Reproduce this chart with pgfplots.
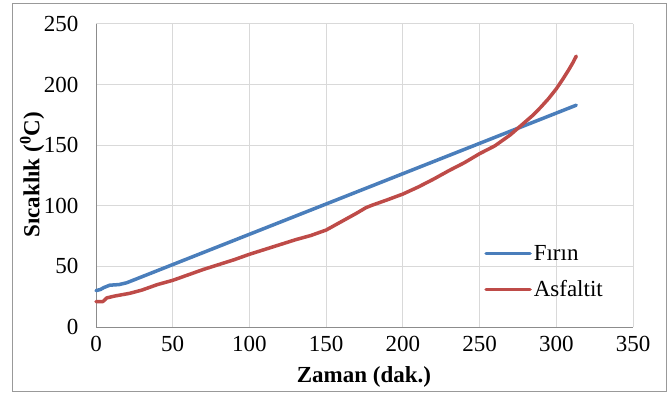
\documentclass[border=0pt]{standalone}
\usepackage{fontspec}
\setmainfont{Liberation Serif}
\usepackage{pgfplots}
\pgfplotsset{compat=1.18}
\definecolor{firin}{HTML}{4A7EBB}
\definecolor{asf}{HTML}{BE4B48}
\begin{document}
\begin{tikzpicture}[x=1bp,y=1bp]
\path[use as bounding box] (0,0) rectangle (668,394);
\draw[black!40, line width=1bp] (12,3) rectangle (666,390);
\begin{axis}[at={(96bp,67bp)}, anchor=south west,
  scale only axis, width=537bp, height=303bp,
  xmin=0, xmax=350, ymin=0, ymax=250,
  xtick={0,50,...,350}, ytick={0,50,...,250},
  grid=major, grid style={draw=black!15, line width=1bp},
  axis lines=left, axis line style={draw=black!45, line width=1bp, -},
  major tick length=0pt,
  tick label style={font=\fontsize{23bp}{26bp}\selectfont},
  /pgf/number format/assume math mode=true,
  yticklabel style={xshift=-14bp},
  xticklabel style={yshift=-6bp},
  xlabel={Zaman (dak.)}, ylabel={Sıcaklık (\textsuperscript{0}C)},
  label style={font=\bfseries\fontsize{23bp}{26bp}\selectfont},
  xlabel style={at={(rel axis cs:0.499,-0.165)}, anchor=center},
  ylabel style={at={(rel axis cs:-0.119,0.502)}, anchor=center, rotate=0},
  legend style={draw=none, fill=none, at={(axis cs:251,71)}, anchor=north west,
    font=\fontsize{23bp}{26bp}\selectfont, row sep=15bp,
    legend cell align=left},
  legend image code/.code={\draw[#1, line width=3.5bp] (0bp,0bp) -- (44bp,0bp);},
  clip=false
]
\addplot[firin, line width=3.5bp, line cap=round, line join=round] coordinates {
(0,30) (3,31) (5,32.5) (9,34.5) (15,35) (20,36.5) (23,38)
(50,51.5) (100,76.5) (150,101.5) (200,126.5) (250,151.5) (300,176.5) (313,183)
};
\addlegendentry{Fırın}
\addplot[asf, line width=3.5bp, line cap=round, line join=round] coordinates {
(0,21) (4.5,21) (7,24) (12,25.5) (22,27.8) (30,30.5) (40,35) (50,38.5) (60,43)
(70,47.5) (80,51.5) (90,55.5) (100,60) (110,64) (120,68) (130,72) (140,75.5)
(150,80) (155,83.5) (160,87) (165,90.5) (170,94) (176,98.5) (180,100.5)
(190,105) (200,109.7) (210,115.5) (220,122) (230,129) (240,135.5) (250,143)
(260,149.5) (270,158.5) (280,169.5) (285,175) (290,181.5) (295,188.5)
(300,196.5) (304,204) (308,212) (311,218.5) (313,223.5)
};
\addlegendentry{Asfaltit}
\end{axis}
\end{tikzpicture}
\end{document}
